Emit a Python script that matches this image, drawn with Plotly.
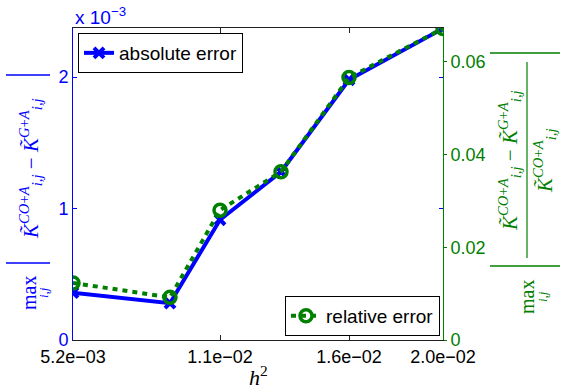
import plotly.graph_objects as go

# ---- data ----
h2 = [5.2e-3, 9.08e-3, 1.108e-2, 1.352e-2, 1.624e-2, 2.0e-2]
abs_err = [0.36e-3, 0.28e-3, 0.915e-3, 1.28e-3, 1.98e-3, 2.37e-3]
rel_err = [0.0123, 0.0092, 0.0280, 0.0363, 0.0566, 0.0672]
x_tick_idx = [0, 2, 4, 5]
x_tick_text = ["5.2e\u221203", "1.1e\u221202", "1.6e\u221202", "2.0e\u221202"]
left_tick_vals = [0, 1e-3, 2e-3]
left_tick_text = ["0", "1", "2"]
right_tick_vals = [0, 0.02, 0.04, 0.06]
right_tick_text = ["0", "0.02", "0.04", "0.06"]

BLUE = "rgb(0,0,255)"
GREEN = "rgb(0,128,0)"
SANS = "Liberation Sans"
SERIF = "Liberation Serif"

W, H = 561, 392
L, R, T, B = 73, 118, 28, 52
PW, PH = W - L - R, H - T - B


def px(x):
    return (x - L) / PW


def py(y):
    return (H - B - y) / PH


fig = go.Figure()
fig.add_trace(go.Scatter(
    x=h2, y=abs_err, name="absolute error", mode="lines+markers",
    line=dict(color=BLUE, width=4),
    marker=dict(symbol="x-thin", size=10, color=BLUE, line=dict(color=BLUE, width=4)),
    legend="legend", yaxis="y"))
fig.add_trace(go.Scatter(
    x=h2, y=rel_err, name="relative error", mode="lines+markers",
    line=dict(color=GREEN, width=4, dash="5px,5px"),
    marker=dict(symbol="circle-open", size=12, color=GREEN, line=dict(color=GREEN, width=3.5)),
    legend="legend2", yaxis="y2"))

fig.update_layout(
    width=W, height=H,
    margin=dict(l=L, r=R, t=T, b=B, pad=0),
    paper_bgcolor="white", plot_bgcolor="white",
    font=dict(family=SANS, size=18, color="black"),
    xaxis=dict(range=[h2[0], h2[-1]], tickvals=[h2[i] for i in x_tick_idx], ticktext=x_tick_text,
               showgrid=False, zeroline=False, showline=True, linecolor="#222", linewidth=1,
               mirror="ticks", ticks="inside", ticklen=5, tickcolor="#222",
               tickfont=dict(family=SANS, size=18, color="black")),
    yaxis=dict(range=[0, 2.374e-3], tickvals=left_tick_vals, ticktext=left_tick_text,
               showgrid=False, zeroline=False, showline=True, linecolor=BLUE, linewidth=1,
               mirror="ticks", ticks="inside", ticklen=4, tickcolor=BLUE,
               tickfont=dict(family=SANS, size=18, color=BLUE)),
    yaxis2=dict(range=[0, 0.0673], tickvals=right_tick_vals, ticktext=right_tick_text,
                overlaying="y", side="right",
                showgrid=False, zeroline=False, showline=True, linecolor=GREEN, linewidth=1,
                ticks="outside", ticklen=3, tickcolor=GREEN,
                tickfont=dict(family=SANS, size=18, color=GREEN)),
    legend=dict(x=px(78), y=py(33), xanchor="left", yanchor="top",
                bgcolor="white", bordercolor="black", borderwidth=1,
                font=dict(family=SANS, size=19, color="black"), itemwidth=30),
    legend2=dict(x=px(440), y=py(336), xanchor="right", yanchor="bottom",
                 bgcolor="white", bordercolor="black", borderwidth=1,
                 font=dict(family=SANS, size=19, color="black"), itemwidth=30),
    showlegend=True,
)


def rot(text, x, y, size, color, italic=False):
    return dict(text=text, x=px(x), y=py(y), xref="paper", yref="paper",
                textangle=-90, xanchor="center", yanchor="middle", showarrow=False,
                font=dict(family=SERIF, size=size, color=color))


ann = []
# exponent label of left axis
ann.append(dict(text="x 10<sup>\u22123</sup>", x=px(73), y=py(16), xref="paper", yref="paper",
                xanchor="left", yanchor="middle", showarrow=False,
                font=dict(family=SANS, size=19, color=BLUE)))
# x axis title
ann.append(dict(text="<i>h</i><sup>2</sup>", x=px(258), y=py(376), xref="paper", yref="paper",
                xanchor="center", yanchor="middle", showarrow=False,
                font=dict(family=SERIF, size=22, color="black")))
# left y label
ann.append(rot("max", 29, 293, 20, BLUE))
ann.append(rot("<i>i,j</i>", 43, 293, 13, BLUE))
ann.append(rot("<i>K\u0303</i><sup><i>CO</i>+<i>A</i></sup><sub><i>i,j</i></sub> \u2212 "
               "<i>K\u0303</i><sup><i>G</i>+<i>A</i></sup><sub><i>i,j</i></sub>", 31, 169, 21, BLUE))
# right y label
ann.append(rot("max", 527, 297, 20, GREEN))
ann.append(rot("<i>i,j</i>", 542, 297, 13, GREEN))
ann.append(rot("<i>K\u0303</i><sup><i>CO</i>+<i>A</i></sup><sub><i>i,j</i></sub> \u2212 "
               "<i>K\u0303</i><sup><i>G</i>+<i>A</i></sup><sub><i>i,j</i></sub>", 509, 161, 21, GREEN))
ann.append(rot("<i>K\u0303</i><sup><i>CO</i>+<i>A</i></sup><sub><i>i,j</i></sub>", 544, 161, 21, GREEN))
fig.update_layout(annotations=ann)

shapes = []
# absolute-value bars and fraction bar
for y_ in (75, 263):
    shapes.append(dict(type="line", xref="paper", yref="paper", x0=px(6), x1=px(50), y0=py(y_), y1=py(y_),
                       line=dict(color=BLUE, width=1.5)))
for y_ in (53, 266):
    shapes.append(dict(type="line", xref="paper", yref="paper", x0=px(490), x1=px(560), y0=py(y_), y1=py(y_),
                       line=dict(color=GREEN, width=1.5)))
shapes.append(dict(type="line", xref="paper", yref="paper", x0=px(527), x1=px(527), y0=py(62), y1=py(258),
                   line=dict(color=GREEN, width=1.2)))
fig.update_layout(shapes=shapes)

fig.write_html("out.html")
